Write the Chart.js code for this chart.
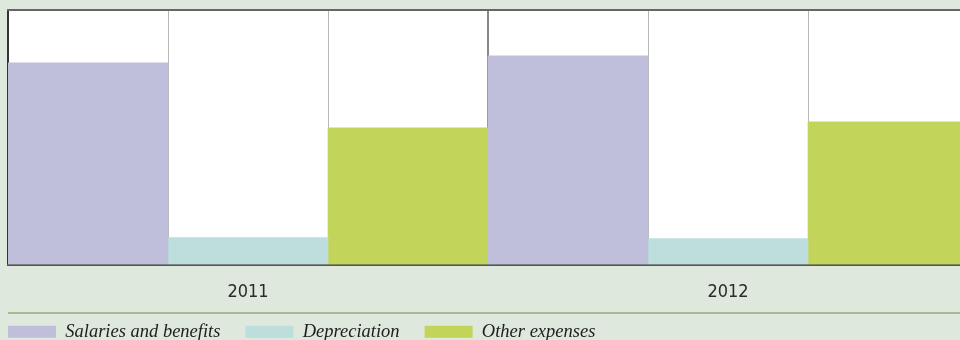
<!DOCTYPE html>
<html>
<head>
<meta charset="utf-8">
<script src="https://cdn.jsdelivr.net/npm/chart.js"></script>
<style>
    html, body { margin: 0; padding: 0; background: #dfe8dc; overflow: hidden; }
    /* el grafico original queda recortado a la derecha y abajo */
    #wrap { width: 968px; height: 356px; position: relative; }
</style>
</head>
<body>
<div id="wrap"><canvas id="expenses"></canvas></div>
<script>
// Datos
const years = ['2011', '2012'];
const salaries = [79.2, 82.0];
const depreciation = [10.6, 10.2];
const otherExpenses = [53.7, 56.1];
const subColumns = ['', '', '', '', '', ''];

const COLORS = {
    salaries: '#bfbfdb',
    depreciation: '#bddedc',
    other: '#c3d45b',
};

const LEGEND_PADDING = 25;

// fondo blanco del area de trazado + leyenda pegada al borde izquierdo
const plotFrame = {
    id: 'plotFrame',
    afterLayout(chart) {
        const lg = chart.legend;
        if (!lg) return;
        lg.left = chart.chartArea.left - LEGEND_PADDING;
        lg.top = chart.scales.x.bottom + 20 - LEGEND_PADDING;
    },
    beforeDraw(chart) {
        const { left, top, right, bottom } = chart.chartArea;
        const ctx = chart.ctx;
        ctx.save();
        ctx.fillStyle = '#ffffff';
        ctx.fillRect(left, top, right - left, bottom - top);
        ctx.restore();
    },
    afterDraw(chart) {
        // linea separadora sobre la leyenda
        const ctx = chart.ctx;
        const y = chart.scales.x.bottom + 10.5;
        ctx.save();
        ctx.strokeStyle = '#a9b996';
        ctx.lineWidth = 2;
        ctx.beginPath();
        ctx.moveTo(chart.chartArea.left, y);
        ctx.lineTo(chart.width, y);
        ctx.stroke();
        ctx.restore();
    }
};

new Chart(document.getElementById('expenses'), {
    type: 'bar',
    data: {
        labels: years,
        datasets: [
            { label: 'Salaries and benefits', data: salaries, backgroundColor: COLORS.salaries, xAxisID: 'x' },
            { label: 'Depreciation', data: depreciation, backgroundColor: COLORS.depreciation, xAxisID: 'x' },
            { label: 'Other expenses', data: otherExpenses, backgroundColor: COLORS.other, xAxisID: 'x' },
        ]
    },
    options: {
        responsive: true,
        maintainAspectRatio: false,
        animation: false,
        layout: { padding: { left: 8, right: 0, top: 10, bottom: 0 } },
        datasets: {
            bar: { categoryPercentage: 1, barPercentage: 1, borderWidth: 0 }
        },
        plugins: {
            tooltip: { enabled: false },
            legend: {
                position: 'bottom',
                align: 'start',
                labels: {
                    boxWidth: 48,
                    boxHeight: 12,
                    padding: LEGEND_PADDING,
                    color: '#1e1e1e',
                    font: { family: '"Liberation Serif", "DejaVu Serif", serif', style: 'italic', size: 18.5 }
                }
            }
        },
        scales: {
            x: {
                z: 1,
                afterFit: (s) => { s.height = 38; },
                grid: {
                    drawTicks: false,
                    color: (c) => (c.index === 0 ? '#333' : '#888'),
                    lineWidth: 2
                },
                border: { display: true, color: '#555', width: 2 },
                ticks: {
                    padding: 17,
                    color: '#2a2a2a',
                    font: { family: '"DejaVu Sans Condensed", sans-serif', size: 18 }
                }
            },
            x2: {
                type: 'category',
                labels: subColumns,
                position: 'top',
                offset: true,
                z: 1,
                grid: {
                    offset: true,
                    drawTicks: false,
                    color: (c) => (c.index % 3 === 0 ? 'rgba(0,0,0,0)' : '#b8b8b8'),
                    lineWidth: 1
                },
                border: { display: true, color: '#666', width: 2 },
                ticks: { display: false }
            },
            y: {
                display: false,
                min: 0,
                max: 100
            }
        }
    },
    plugins: [plotFrame]
});
</script>
</body>
</html>
